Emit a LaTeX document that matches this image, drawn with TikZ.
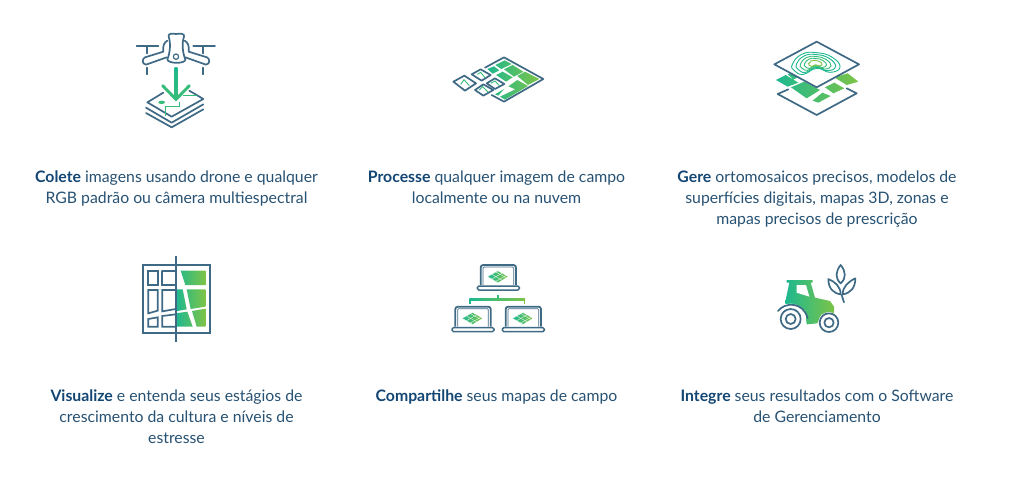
\documentclass[tikz,border=0pt]{standalone}
\usepackage{fontspec}
\setmainfont{Lato}
\definecolor{ink}{HTML}{3F6A85}
\definecolor{txt}{HTML}{285273}
\definecolor{txtb}{HTML}{134673}
\definecolor{gA}{HTML}{1DB890}
\definecolor{gB}{HTML}{7DC447}
\definecolor{gC}{HTML}{35BC78}
\tikzset{
  icon/.style={draw=ink,line width=1.7pt,line join=round,line cap=round},
  para/.style={align=center,anchor=north,inner sep=0pt,text=txt,font=\fontsize{15.8}{21}\selectfont},
  laptop/.pic={
    \begin{scope}
      \clip (-30,0)--(0,-17)--(30,0)--(0,18)--cycle;
      \shade[left color=gA,right color=gB] (-30,-18) rectangle (30,18);
      \foreach \k in {-24,-12,0,12,24}{
        \draw[white,line width=.3pt] (-30+\k,\k*.6)--(\k+30,\k*.6-34);
        \draw[white,line width=.3pt] (-30+\k,-\k*.6)--(\k+30,-\k*.6+34);
      }
    \end{scope}
    \draw[draw=ink,line width=1.8pt,rounded corners=2.5pt] (-51,25)--(-51,-35)--(55,-35)--(55,25);
    \draw[draw=ink,line width=.7pt,rounded corners=1pt] (-44,25)--(-44,-29)--(48,-29)--(48,25);
    \draw[draw=ink,line width=1.5pt,rounded corners=1.5pt] (-61,28) rectangle (65,40);
  }
}
\begin{document}
\begin{tikzpicture}[x=1pt,y=-1pt]
\useasboundingbox (0,0) rectangle (1030,477);
\fill[white] (0,0) rectangle (1030,477);

% ---------- drone icon
\begin{scope}[shift={(120,20)},scale=1/3]
  \draw[icon] (130,95)--(75,112) .. controls (67,115) and (64,132) .. (78,134)--(140,112);
  \draw[icon] (206,95)--(261,112) .. controls (269,115) and (272,132) .. (258,134)--(196,112);
  \draw[icon] (130,94) .. controls (128,78) and (132,68) .. (142,62) (206,94) .. controls (208,78) and (204,68) .. (194,62);
  \draw[icon,fill=white] (146,50) .. controls (144,40) and (155,40) .. (168,42) .. controls (181,40) and (195,40) .. (192,50) .. controls (185,70) and (188,100) .. (196,118) .. controls (198,132) and (143,132) .. (142,118) .. controls (150,100) and (153,70) .. (146,50) -- cycle;
  \draw[icon,line width=1.2pt] (168,110) circle (8);
  \draw[icon] (50,78)--(115,78) (82,78)--(82,100) (220,78)--(285,78) (250,78)--(250,100);
  \draw[icon] (82,143)--(82,163) (250,143)--(250,163);
  \draw[icon] (78,263)--(155,308)--(250,253) (78,279)--(155,322)--(250,268);
  \draw[icon] (130,218)--(82,247)--(155,290)--(250,237)--(208,212);
  \fill[gC] (125,247) ellipse (10 and 5);
  \draw[gC,line width=.9pt] (137,287)--(137,258)--(178,258)--(178,245) (190,225)--(230,225);
  \shade[top color=gA,bottom color=gC] (164,143) rectangle (172,232);
  \draw[gC,line width=2.9pt,line cap=round] (128,197)--(168,238)--(208,197);
\end{scope}

% ---------- process icon
\begin{scope}[shift={(440,45)},scale=1/3]
  \begin{scope}
    \clip (142,72)--(162,64)--(178,76)--(158,86)--cycle
      (166,60)--(194,46)--(215,57)--(184,72)--cycle
      (192,73)--(218,60)--(250,80)--(222,95)--cycle
      (168,90)--(188,80)--(218,97)--(198,110)--cycle
      (232,93)--(255,80)--(298,102)--(264,120)--cycle
      (205,124)--(232,105)--(264,123)--(195,164)--(180,155)--(226,133)--cycle
      (165,148)--(192,132)--(175,152)--cycle;
    \shade[left color=gA,right color=gB] (140,40) rectangle (300,165);
  \end{scope}
  \draw[icon] (135,68)--(192,37)--(310,102)--(192,170)--(155,150);
  \draw[icon] (40,110)--(73,92)--(108,115)--(75,137)--cycle;
  \draw[icon] (95,88)--(122,73)--(152,90)--(125,107)--cycle;
  \draw[icon] (140,115)--(165,100)--(193,117)--(165,132)--cycle;
  \draw[icon] (105,135)--(130,118)--(160,135)--(130,152)--cycle;
  \draw[gC,line width=.9pt] (62,118)--(72,104)--(88,122) (112,88)--(122,82)--(135,98) (152,115)--(165,108)--(178,122) (118,135)--(128,125)--(145,142);
\end{scope}

% ---------- layers icon
\begin{scope}[shift={(765,30)},scale=1/3]
  \begin{scope}
    \clip (33,150)--(62,135)--(100,158)--(68,170)--cycle
      (68,133)--(85,126)--(105,140)--(85,148)--cycle
      (78,172)--(118,155)--(165,180)--(125,205)--cycle
      (143,212)--(172,188)--(197,198)--(160,218)--cycle
      (180,172)--(208,158)--(238,175)--(205,190)--cycle
      (208,142)--(248,130)--(280,155)--(245,165)--cycle;
    \shade[left color=gA,right color=gB] (30,125) rectangle (280,220);
  \end{scope}
  \draw[icon] (70,178)--(38,192)--(155,255)--(275,190)--(245,175);
  \draw[icon,fill=white] (155,35)--(282,103)--(155,172)--(28,103)--cycle;
  \foreach \s/\c in {1/gA,.82/gA,.64/gC,.46/gC,.28/gB}{
    \draw[\c,line width=.9pt] plot[smooth cycle,tension=.8] coordinates
      {({150+\s*(-68)},{100+\s*3}) ({150+\s*(-40)},{100+\s*(-27)}) ({150+\s*(5)},{100+\s*(-32)}) ({150+\s*(52)},{100+\s*(-18)}) ({150+\s*(75)},{100+\s*(12)}) ({150+\s*(45)},{100+\s*(27)}) ({150+\s*(5)},{100+\s*(15)}) ({150+\s*(-35)},{100+\s*(33)}) ({150+\s*(-62)},{100+\s*(22)})};
  }
\end{scope}

% ---------- field split icon
\begin{scope}[shift={(130,250)},scale=1/3]
  \begin{scope}
    \clip (152,62)--(226,62)--(226,105)--(166,105)--cycle
      (170,118)--(226,118)--(226,170)--(182,177)--cycle
      (137,118)--(158,118)--(170,178)--(137,184)--cycle
      (137,190)--(172,185)--(188,230)--(137,230)--cycle
      (186,183)--(226,176)--(226,230)--(200,230)--cycle;
    \shade[left color=gA,right color=gB] (137,60) rectangle (226,232);
  \end{scope}
  \draw[icon,line cap=butt,line join=miter] (38,45) rectangle (240,248);
  \draw[icon,line cap=butt] (137,18)--(137,275);
  \draw[icon,line join=miter] (55,63) rectangle (83,105) (97,63)--(137,63) (97,63)--(97,105)--(137,105);
  \draw[icon,line join=miter] (55,120)--(83,120)--(83,182)--(55,190)--cycle;
  \draw[icon,line join=miter] (137,120)--(97,120)--(97,184)--(137,177);
  \draw[icon,line join=miter] (55,207)--(83,202)--(83,230)--(55,230)--cycle;
  \draw[icon,line join=miter] (137,193)--(97,198)--(97,230)--(137,230);
\end{scope}

% ---------- laptops icon
\begin{scope}[shift={(440,255)},scale=1/3]
  \pic[transform shape] at (173,65) {laptop};
  \pic[transform shape] at (97,190) {laptop};
  \pic[transform shape] at (248,190) {laptop};
  \begin{scope}
    \clip (87,117) rectangle (256,149);
    \fill[gC] (172,120) rectangle (176,135);
    \shade[left color=gA,right color=gB] (88,131) rectangle (255,135);
    \fill[gA] (88,131) rectangle (92,148);
    \fill[gB] (251,131) rectangle (255,148);
  \end{scope}
\end{scope}

% ---------- tractor icon
\begin{scope}[shift={(770,255)},scale=1/3]
  \begin{scope}
    \clip (50,75)--(128,75)--(128,83)--(122,83)--(135,128)--(180,138)--(192,155)--(192,178)--(155,178)--(142,205)--(110,208)--(105,165)--(45,145)--(58,83)--(50,83)--cycle;
    \shade[left color=gA,right color=gB] (45,70) rectangle (195,210);
  \end{scope}
  \fill[white] (80,90)--(108,90)--(118,125)--(80,113)--cycle;
  \fill[white] (62,192) circle (46);
  \fill[white] (177,203) circle (32);
  \draw[icon] (62,192) circle (30);
  \draw[icon] (62,192) circle (15);
  \draw[icon] (177,203) circle (28);
  \draw[icon] (177,203) circle (14);
  \draw[icon] (24,168) .. controls (45,140) and (100,140) .. (113,190);
  \draw[icon] (212,30) .. controls (196,50) and (195,70) .. (212,85) .. controls (229,70) and (228,50) .. (212,30) -- cycle;
  \draw[icon] (175,72) .. controls (175,100) and (190,115) .. (212,118) .. controls (212,95) and (195,80) .. (175,72) -- cycle;
  \draw[icon] (256,70) .. controls (256,100) and (240,115) .. (218,118) .. controls (218,95) and (235,80) .. (256,70) -- cycle;
  \draw[icon] (215,120)--(222,142);
\end{scope}

% ---------- texts
\node[para] (t1) at (176.5,170.5) {\textcolor{txtb}{\textbf{Colete}} imagens usando drone e qualquer\\RGB padrão ou câmera multiespectral};
\node[para] (t2) at (496.5,170.5) {\textcolor{txtb}{\textbf{Processe}} qualquer imagem de campo\\localmente ou na nuvem};
\node[para] (t3) at (817,170.5) {\textcolor{txtb}{\textbf{Gere}} ortomosaicos precisos, modelos de\\superfícies digitais, mapas 3D, zonas e\\mapas precisos de prescrição};
\node[para] (t4) at (176.5,389.5) {\textcolor{txtb}{\textbf{Visualize}} e entenda seus estágios de\\crescimento da cultura e níveis de\\estresse};
\node[para] (t5) at (496.5,389.5) {\textcolor{txtb}{\textbf{Compartilhe}} seus mapas de campo};
\node[para] (t6) at (817,389.5) {\textcolor{txtb}{\textbf{Integre}} seus resultados com o Software\\de Gerenciamento};
\end{tikzpicture}
\end{document}
